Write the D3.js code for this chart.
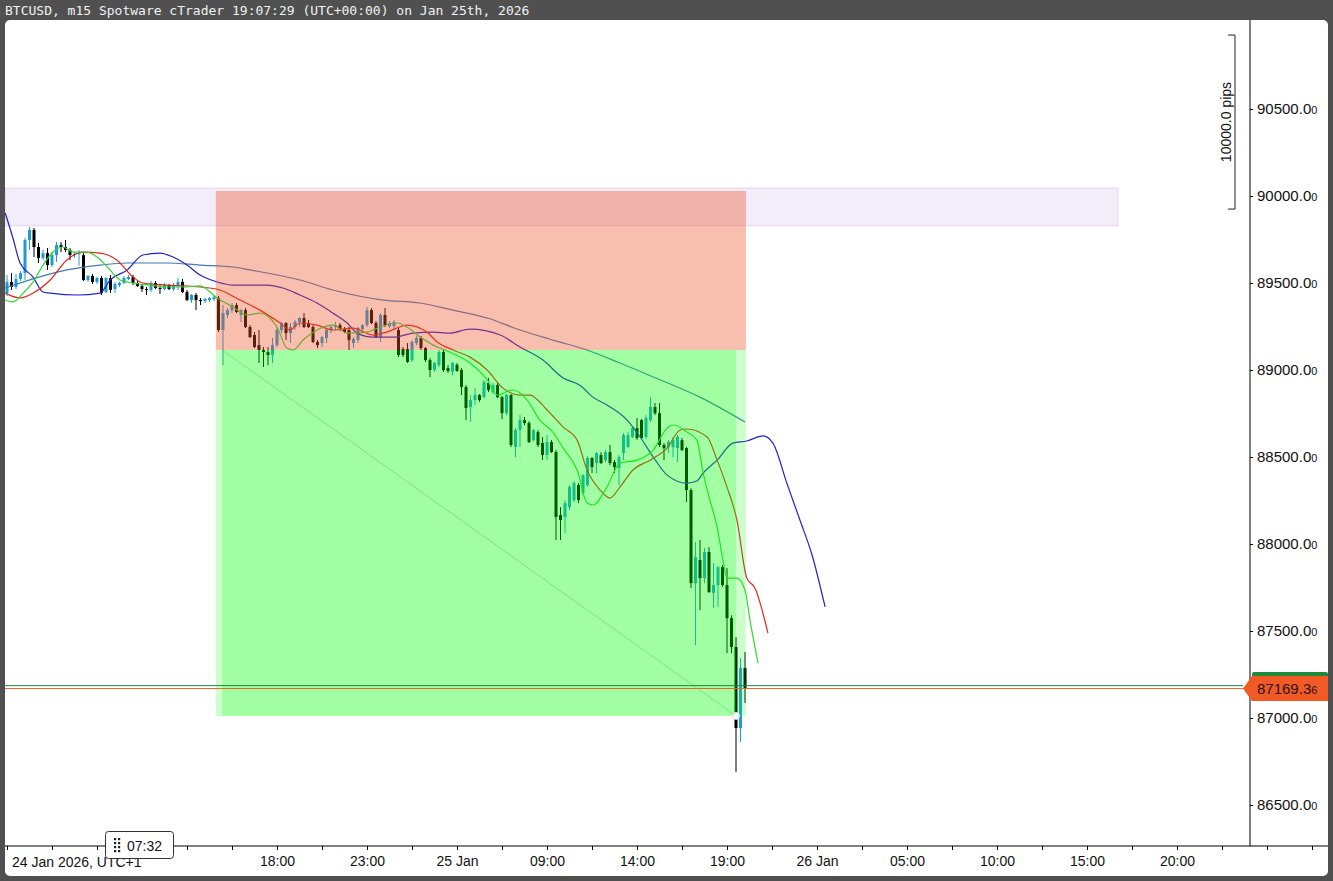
<!DOCTYPE html>
<html><head><meta charset="utf-8">
<script src="https://cdn.jsdelivr.net/npm/d3@7"></script>
<style>body{margin:0;background:#fff;overflow:hidden}svg{display:block}</style>
</head><body>
<script>
// ---------- DATA ----------
const titleText = "BTCUSD, m15 Spotware cTrader 19:07:29 (UTC+00:00) on Jan 25th, 2026";
// candles (15 min), index 0 = 24 Jan 03:00 (UTC+1)
const opens  = [89442,89506,89477,89523,89557,89747,89805,89707,89644,89672,89603,89661,89718,89707,89690,89661,89667,89660,89517,89540,89506,89529,89448,89529,89465,89488,89500,89523,89534,89500,89483,89465,89460,89500,89471,89465,89488,89465,89488,89506,89448,89402,89431,89402,89396,89402,89408,89414,89230,89316,89344,89373,89316,89344,89247,89201,89143,89115,89103,89086,89143,89230,89270,89212,89247,89276,89299,89270,89247,89161,89155,89184,89230,89247,89258,89235,89230,89155,89172,89235,89258,89344,89270,89189,89316,89252,89252,89230,89120,89120,89057,89155,89184,89126,89057,89000,89028,89103,89011,88990,89030,89000,88902,88787,88827,88856,88844,88925,88873,88913,88844,88752,88856,88557,88655,88712,88695,88597,88643,88580,88511,88586,88528,88166,88155,88212,88252,88339,88293,88339,88494,88465,88511,88482,88528,88471,88436,88523,88557,88615,88666,88712,88615,88712,88787,88752,88569,88557,88557,88551,88597,88551,88310,87775,87908,87804,87954,87718,87764,87867,87764,87574,87408,86942,87287];
const highs  = [89546,89557,89552,89569,89760,89822,89816,89730,89690,89701,89678,89736,89736,89747,89701,89678,89690,89672,89546,89552,89534,89540,89534,89546,89506,89506,89540,89546,89546,89511,89494,89477,89511,89511,89488,89500,89494,89500,89529,89523,89460,89437,89442,89414,89414,89420,89425,89425,89373,89356,89385,89385,89350,89356,89258,89218,89230,89132,89132,89184,89247,89276,89276,89270,89287,89304,89327,89287,89258,89172,89195,89241,89258,89276,89270,89247,89247,89189,89247,89264,89362,89356,89281,89327,89356,89281,89287,89247,89132,89155,89172,89195,89195,89132,89069,89046,89115,89115,89028,89046,89040,89011,88913,88856,88896,88862,88942,88954,88925,88925,88850,88862,88862,88666,88741,88730,88706,88660,88655,88615,88626,88597,88540,88212,88252,88339,88362,88350,88402,88505,88500,88528,88528,88540,88569,88482,88511,88638,88643,88678,88724,88718,88741,88844,88810,88810,88580,88597,88615,88626,88609,88557,88321,88011,88023,87977,87982,87890,87873,87879,87862,87590,87465,87344,87379];
const lows   = [89425,89460,89465,89511,89517,89690,89649,89615,89632,89575,89592,89621,89678,89678,89632,89644,89600,89511,89506,89494,89494,89431,89442,89442,89442,89477,89494,89517,89488,89477,89448,89431,89448,89465,89437,89460,89460,89454,89460,89442,89396,89385,89344,89373,89385,89391,89396,89218,89028,89299,89327,89327,89276,89241,89184,89126,89040,89017,89028,89040,89132,89212,89172,89155,89230,89247,89241,89241,89155,89126,89132,89155,89212,89230,89224,89212,89115,89126,89155,89218,89247,89264,89184,89161,89247,89241,89230,89074,89074,89040,89046,89143,89115,89046,88959,88990,89017,88988,88982,88970,88990,88856,88712,88701,88800,88816,88838,88873,88862,88838,88718,88741,88557,88500,88557,88683,88580,88590,88557,88482,88482,88523,88023,88023,88063,88195,88241,88235,88281,88327,88408,88408,88459,88471,88453,88408,88339,88482,88551,88609,88597,88603,88603,88701,88741,88557,88482,88523,88500,88471,88534,88241,87747,87419,87620,87775,87718,87632,87638,87753,87373,87373,86689,86862,87086];
const closes = [89506,89477,89523,89557,89747,89805,89707,89644,89672,89603,89661,89718,89707,89690,89661,89667,89672,89517,89540,89506,89529,89442,89529,89460,89494,89500,89529,89534,89500,89483,89465,89460,89500,89471,89465,89488,89465,89488,89506,89448,89402,89431,89402,89396,89408,89414,89420,89230,89327,89344,89373,89333,89344,89247,89189,89132,89115,89103,89086,89143,89230,89270,89212,89247,89276,89299,89247,89247,89161,89143,89189,89230,89247,89258,89235,89218,89172,89178,89241,89258,89344,89270,89189,89316,89258,89270,89276,89086,89086,89046,89161,89184,89126,89057,89000,89040,89103,89000,88994,89040,88994,88902,88781,88827,88856,88827,88931,88885,88913,88844,88752,88856,88569,88655,88712,88695,88586,88655,88569,88511,88586,88528,88155,88138,88235,88327,88350,88252,88396,88494,88442,88523,88465,88528,88465,88442,88500,88626,88626,88666,88609,88609,88724,88787,88752,88569,88551,88586,88597,88615,88540,88310,87775,87925,87804,87954,87724,87764,87867,87764,87574,87408,86942,87287,87169.36];

// moving averages: [candle index, price]
const maLong  = [[-0.4,89471],[13.3,89575],[20.7,89603],[26.7,89615],[35.6,89615],[42.9,89603],[50.2,89592],[54,89575],[65.1,89517],[72.4,89460],[83.6,89402],[91.8,89385],[99.1,89344],[106.7,89299],[114,89230],[121.3,89172],[128.9,89115],[136.2,89040],[143.6,88960],[154,88844],[164,88701]];
const maBlue  = [[-0.4,89902],[1.3,89760],[2.9,89615],[5.8,89534],[8,89448],[9.6,89442],[15.6,89431],[20.7,89442],[22.9,89517],[26.7,89575],[30.2,89661],[34,89672],[36.9,89649],[40,89603],[42.9,89546],[46.7,89506],[50.2,89488],[57.8,89488],[61.3,89471],[65.1,89431],[68.9,89385],[72.4,89327],[75.6,89270],[77.8,89212],[81.3,89189],[85.8,89189],[90.2,89212],[94.7,89218],[98.4,89212],[102.9,89235],[109.6,89201],[114,89132],[119.1,89057],[123.6,88954],[127.3,88913],[130.2,88844],[133.3,88799],[137.8,88712],[140.7,88615],[143.6,88500],[146.7,88396],[151.1,88350],[153.3,88362],[154.7,88408],[157.8,88482],[161.3,88580],[164.4,88592],[168,88621],[170.2,88580],[173.3,88350],[176.2,88138],[178.9,87937],[181.8,87638]];
const maRed   = [[-0.4,89442],[2.9,89414],[5.8,89442],[9.6,89517],[13.3,89632],[16.9,89678],[20.7,89672],[24.4,89632],[28,89534],[30.2,89500],[35.6,89488],[42.9,89477],[47.3,89460],[51.8,89402],[56.2,89344],[60.7,89270],[62.9,89230],[65.1,89270],[68.9,89258],[72.4,89230],[76.9,89241],[81.3,89201],[84.4,89218],[88.9,89258],[93.3,89218],[95.6,89161],[99.1,89115],[102.9,89074],[106.7,89000],[110.2,88896],[114,88856],[116.2,88856],[120,88770],[123.6,88672],[126.7,88597],[128.9,88425],[131.8,88310],[134,88264],[136.2,88327],[139.1,88425],[142.9,88482],[146.7,88551],[149.6,88655],[151.1,88661],[155.6,88615],[157.8,88482],[160,88327],[162.2,88138],[164.4,87804],[166.2,87747],[169.1,87488]];
const maGreen = [[-0.4,89402],[1.3,89391],[3.6,89442],[5.8,89506],[8,89603],[10.2,89678],[12.4,89707],[14.7,89678],[17.8,89678],[20,89649],[22.9,89575],[25.1,89517],[28,89500],[31.8,89488],[35.6,89477],[39.1,89477],[42.9,89483],[46.7,89414],[50.2,89362],[53.3,89316],[56.2,89327],[60,89247],[62.2,89126],[63.6,89115],[65.8,89172],[68.9,89230],[72.4,89258],[75.6,89212],[80,89218],[82.9,89247],[86.7,89270],[88.9,89247],[91.8,89189],[94.7,89143],[98.4,89103],[102.9,89040],[106.7,88943],[108.9,88856],[112.4,88885],[115.6,88827],[118.4,88712],[121.3,88643],[123.6,88551],[126.7,88425],[128.9,88235],[130.2,88224],[133.3,88327],[136.2,88465],[140,88482],[143.6,88540],[146.7,88666],[148,88684],[151.1,88643],[153.3,88597],[154.7,88408],[156.2,88252],[157.8,88098],[159.1,87908],[160,87804],[162.2,87804],[164,87735],[165.1,87563],[166.9,87316]];

// zones and trade box
const zonePrices = [90046, 89828];        // supply zone top/bottom
const zoneIdx    = [-0.45, 246.9];
const tradeIdx   = [46.4, 164.2];          // outer box
const tradeInner = [47.8, 162.0];
const stopPrice = 90029, entryPrice = 89115, targetPrice = 87012;
const bidPrice = 87169.36, askPrice = 87186;
const rulerPrices = [90925, 89925];
const rulerLabel = "10000.0 pips";
const timerText = "07:32";

// axes
const priceTicks = [86500,87000,87500,88000,88500,89000,89500,90000,90500];
const minorTickIdx = d3.range(0, 300, 10);
const labelIdx = [60,80,100,120,140,160,180,200,220,240,260];
const labelText = ["18:00","23:00","25 Jan","09:00","14:00","19:00","26 Jan","05:00","10:00","15:00","20:00"];
const firstLabel = "24 Jan 2026, UTC+1";

// ---------- DRAW ----------
const W = 1333, H = 881;
const svg = d3.select("body").append("svg").attr("width", W).attr("height", H);
const FONT = "'Liberation Sans', Arial, sans-serif";

svg.append("rect").attr("width", W).attr("height", H).attr("fill", "#505050");
svg.append("text").attr("x", 5).attr("y", 15)
  .attr("font-family", "'DejaVu Sans Mono', 'Liberation Mono', monospace")
  .attr("font-size", 13).attr("fill", "#f2f2f2").text(titleText);
svg.append("rect").attr("x", 5).attr("y", 20).attr("width", 1323).attr("height", 856)
  .attr("rx", 5).attr("fill", "#fff");

const x = d3.scaleLinear().domain([0, 164]).range([7, 745]);
const y = d3.scaleLinear().domain([86500, 90500]).range([805, 109]);

svg.append("defs").append("clipPath").attr("id", "plot")
  .append("rect").attr("x", 5).attr("y", 20).attr("width", 1245).attr("height", 826);
const plot = svg.append("g").attr("clip-path", "url(#plot)");

// supply zone
plot.append("rect")
  .attr("x", x(zoneIdx[0])).attr("width", x(zoneIdx[1]) - x(zoneIdx[0]))
  .attr("y", y(zonePrices[0])).attr("height", y(zonePrices[1]) - y(zonePrices[0]))
  .attr("fill", "rgba(160,110,210,0.13)").attr("stroke", "rgba(160,110,210,0.22)");

// candles
const idx = d3.range(opens.length);
const cg = plot.append("g");
const col = i => closes[i] >= opens[i] ? "#1d9bd6" : "#000";
cg.selectAll("line.w").data(idx).join("line")
  .attr("x1", i => x(i)).attr("x2", i => x(i))
  .attr("y1", i => y(highs[i])).attr("y2", i => y(lows[i]))
  .attr("stroke", col).attr("stroke-width", 1);
cg.selectAll("rect.b").data(idx).join("rect")
  .attr("x", i => x(i) - 1.5).attr("width", 3)
  .attr("y", i => Math.min(y(opens[i]), y(closes[i])))
  .attr("height", i => Math.max(1, Math.abs(y(opens[i]) - y(closes[i]))))
  .attr("fill", col);

// moving averages
const line = d3.line().x(d => x(d[0])).y(d => y(d[1])).curve(d3.curveMonotoneX);
[[maLong, "#3f7cb8"], [maBlue, "#2222cc"], [maRed, "#e3231b"], [maGreen, "#2fd82f"]]
  .forEach(([data, c]) => {
    plot.append("path").datum(data).attr("d", line).attr("fill", "none")
      .attr("stroke", c).attr("stroke-width", 1.2);
  });

// trade box overlays
const bx0 = x(tradeIdx[0]), bx1 = x(tradeIdx[1]);
plot.append("rect").attr("x", bx0).attr("width", bx1 - bx0)
  .attr("y", y(stopPrice)).attr("height", y(entryPrice) - y(stopPrice))
  .attr("fill", "rgb(236,84,42)").attr("fill-opacity", 0.38);
plot.append("rect").attr("x", bx0).attr("width", bx1 - bx0)
  .attr("y", y(entryPrice)).attr("height", y(targetPrice) - y(entryPrice))
  .attr("fill", "#00ff00").attr("fill-opacity", 0.2);
const ix0 = x(tradeInner[0]), ix1 = x(tradeInner[1]);
plot.append("rect").attr("x", ix0).attr("width", ix1 - ix0)
  .attr("y", y(entryPrice)).attr("height", y(targetPrice) - y(entryPrice))
  .attr("fill", "#00ff00").attr("fill-opacity", 0.2);
plot.append("line").attr("x1", ix0).attr("y1", y(entryPrice)).attr("x2", ix1).attr("y2", y(targetPrice))
  .attr("stroke", "rgba(0,190,0,0.3)").attr("stroke-width", 1);
plot.append("circle").attr("cx", ix1).attr("cy", y(targetPrice)).attr("r", 3.5)
  .attr("fill", "#fff").attr("stroke", "#ddd");

// price lines
svg.append("line").attr("x1", 5).attr("x2", 1243).attr("y1", y(askPrice)).attr("y2", y(askPrice))
  .attr("stroke", "#1f8a3b").attr("stroke-width", 1);
svg.append("line").attr("x1", 5).attr("x2", 1243).attr("y1", y(bidPrice)).attr("y2", y(bidPrice))
  .attr("stroke", "#e8632c").attr("stroke-width", 1);

// x axis
svg.append("line").attr("x1", 5).attr("x2", 1328).attr("y1", 846).attr("y2", 846).attr("stroke", "#000");
const xTicks = svg.append("g").attr("transform", "translate(0,846)")
  .call(d3.axisBottom(x).tickValues(minorTickIdx).tickSize(4).tickFormat(""));
xTicks.select(".domain").remove();
xTicks.selectAll("line").attr("stroke", "#000");
const xLab = svg.append("g").attr("transform", "translate(0,846)")
  .call(d3.axisBottom(x).tickValues(labelIdx).tickSize(0).tickPadding(10.5)
    .tickFormat((d, i) => labelText[i]));
xLab.select(".domain").remove();
xLab.selectAll("text").attr("font-family", FONT).attr("font-size", 14).attr("fill", "#111");
svg.append("text").attr("x", 12).attr("y", 866.5).attr("font-family", FONT)
  .attr("font-size", 14).attr("fill", "#111").text(firstLabel);

// y axis
svg.append("line").attr("x1", 1250).attr("x2", 1250).attr("y1", 20).attr("y2", 846).attr("stroke", "#000");
const yAx = svg.append("g").attr("transform", "translate(1250,0)")
  .call(d3.axisRight(y).tickValues(priceTicks).tickSize(3).tickPadding(4));
yAx.select(".domain").remove();
yAx.selectAll("line").attr("stroke", "#000");
yAx.selectAll("text").attr("font-family", FONT).attr("font-size", 15).attr("fill", "#111")
  .each(function (d) {
    const s = d.toFixed(2), t = d3.select(this);
    t.text(null);
    t.append("tspan").text(s.slice(0, -1));
    t.append("tspan").attr("font-size", 11).text(s.slice(-1));
  });

// current price label
const py = y(bidPrice);
svg.append("rect").attr("x", 1252).attr("y", py - 16.5).attr("width", 76).attr("height", 6)
  .attr("rx", 2).attr("fill", "#1f8a3b");
svg.append("path")
  .attr("d", `M1243,${py} L1252,${py - 12.5} H1328 V${py + 12.5} H1252 Z`)
  .attr("fill", "#f15a24");
const pt = svg.append("text").attr("x", 1257).attr("y", py).attr("dy", "0.35em")
  .attr("font-family", FONT).attr("font-size", 15).attr("fill", "#2b1408");
const ps = bidPrice.toFixed(2);
pt.append("tspan").text(ps.slice(0, -1));
pt.append("tspan").attr("font-size", 11).text(ps.slice(-1));

// pips ruler
const r0 = y(rulerPrices[0]), r1 = y(rulerPrices[1]);
svg.append("path").attr("d", `M1228,${r0} H1235 V${r1} H1228`).attr("fill", "none")
  .attr("stroke", "#222").attr("stroke-width", 1);
svg.append("text").attr("transform", `translate(1226,${(r0 + r1) / 2}) rotate(-90)`)
  .attr("text-anchor", "middle").attr("dy", "0.35em")
  .attr("font-family", FONT).attr("font-size", 14).attr("fill", "#111").text(rulerLabel);

// timer box
svg.append("rect").attr("x", 105.5).attr("y", 831.5).attr("width", 68).attr("height", 27)
  .attr("rx", 3).attr("fill", "#fff").attr("stroke", "#333");
const grip = svg.append("g");
[114, 118].forEach(gx => [838, 842, 846, 850].forEach(gy =>
  grip.append("rect").attr("x", gx).attr("y", gy).attr("width", 2.2).attr("height", 2.2).attr("fill", "#222")));
svg.append("text").attr("x", 127).attr("y", 851).attr("font-family", FONT)
  .attr("font-size", 14).attr("fill", "#111").text(timerText);
</script>
</body></html>
